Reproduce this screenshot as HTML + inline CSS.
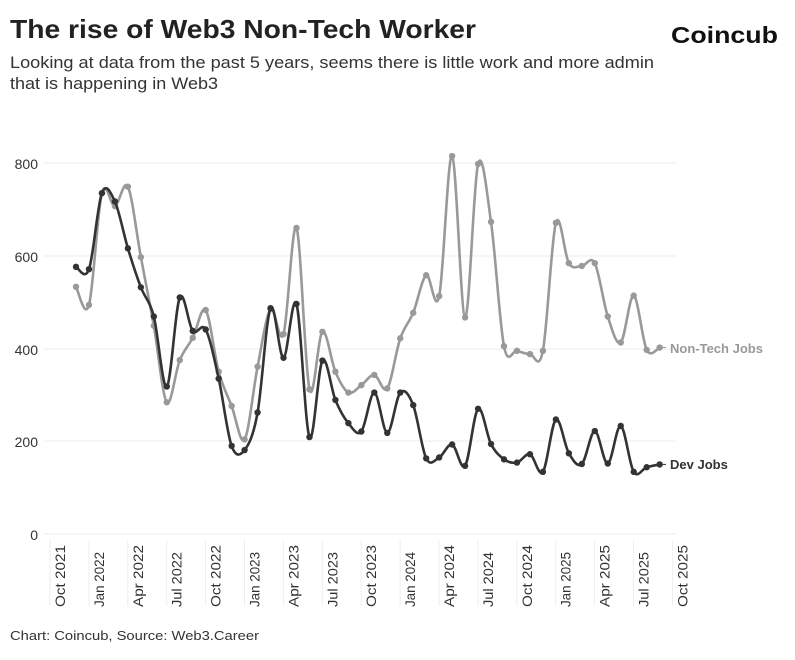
<!DOCTYPE html>
<html><head><meta charset="utf-8"><style>
body{margin:0;background:#fff;width:795px;height:655px;overflow:hidden;font-family:"Liberation Sans",sans-serif}
</style></head><body>
<svg id="s" width="795" height="655" xmlns="http://www.w3.org/2000/svg" font-family="Liberation Sans, sans-serif">
<text x="10" y="38" font-size="26" font-weight="bold" fill="#222" textLength="466" lengthAdjust="spacingAndGlyphs">The rise of Web3 Non-Tech Worker</text>
<text x="671" y="43" font-size="23" font-weight="bold" fill="#111" textLength="107" lengthAdjust="spacingAndGlyphs">Coincub</text>
<text x="10" y="68" font-size="16.5" fill="#333" textLength="644" lengthAdjust="spacingAndGlyphs">Looking at data from the past 5 years, seems there is little work and more admin</text>
<text x="10" y="89" font-size="16.5" fill="#333" textLength="208" lengthAdjust="spacingAndGlyphs">that is happening in Web3</text>
<g stroke="#ececec" stroke-width="1">
<line x1="44" x2="676" y1="163" y2="163"/><line x1="44" x2="676" y1="256" y2="256"/>
<line x1="44" x2="676" y1="349" y2="349"/><line x1="44" x2="676" y1="441" y2="441"/>
<line x1="44" x2="676" y1="534" y2="534"/>
</g>
<g font-size="14" fill="#333" text-anchor="end">
<text x="38" y="169">800</text><text x="38" y="262">600</text><text x="38" y="355">400</text><text x="38" y="447">200</text><text x="38" y="540">0</text>
</g>
<g id="xt"></g>
<g id="ser"></g>
<text x="670" y="353" font-size="13" font-weight="bold" fill="#999">Non-Tech Jobs</text>
<text x="670" y="469" font-size="13" font-weight="bold" fill="#333">Dev Jobs</text>
<text x="10" y="640" font-size="13" fill="#333" textLength="249" lengthAdjust="spacingAndGlyphs">Chart: Coincub, Source: Web3.Career</text>
</svg>
<script>
var labels=["Oct 2021","Jan 2022","Apr 2022","Jul 2022","Oct 2022","Jan 2023","Apr 2023","Jul 2023","Oct 2023","Jan 2024","Apr 2024","Jul 2024","Oct 2024","Jan 2025","Apr 2025","Jul 2025","Oct 2025"];
var xt=document.getElementById('xt'),h='';
labels.forEach(function(l,k){var lx=50+k*38.9;var cx=lx+10;
h+='<line x1="'+lx+'" x2="'+lx+'" y1="540" y2="606" stroke="#eee"/>';
var w=l.indexOf('Jul')==0||l.indexOf('Jan')==0?55:62;
h+='<text transform="translate('+(cx+5)+',607) rotate(-90)" font-size="14" fill="#333" textLength="'+w+'" lengthAdjust="spacingAndGlyphs">'+l+'</text>';});
xt.innerHTML=h;
var gray=[533,494,735,707,749,597,449,284,375,423,483,350,276,204,361,485,431,660,312,436,350,305,321,343,314,422,477,558,513,815,467,798,673,405,395,388,395,671,584,578,584,469,413,514,397,402];
var dark=[576,571,735,717,616,532,469,318,510,438,441,335,190,181,262,487,380,496,209,374,289,239,221,305,218,305,278,163,165,193,147,270,194,161,154,172,134,247,174,151,222,152,233,134,144,150];
function pts(a){return a.map(function(v,i){return [76+12.97*i,534-v*0.46375];});}
function path(p){var d='M'+p[0][0]+','+p[0][1];for(var i=0;i<p.length-1;i++){var p0=p[i-1]||p[i],p1=p[i],p2=p[i+1],p3=p[i+2]||p2;
var c1=[p1[0]+(p2[0]-p0[0])/6,p1[1]+(p2[1]-p0[1])/6],c2=[p2[0]-(p3[0]-p1[0])/6,p2[1]-(p3[1]-p1[1])/6];
d+=' C'+c1[0].toFixed(1)+','+c1[1].toFixed(1)+' '+c2[0].toFixed(1)+','+c2[1].toFixed(1)+' '+p2[0].toFixed(1)+','+p2[1].toFixed(1);}return d;}
var s='';
[[gray,'#999'],[dark,'#333']].forEach(function(o){var p=pts(o[0]);
s+='<path d="'+path(p)+'" fill="none" stroke="'+o[1]+'" stroke-width="2.6"/>';
p.forEach(function(q){s+='<circle cx="'+q[0]+'" cy="'+q[1]+'" r="3.2" fill="'+o[1]+'"/>';});});
s+='<line x1="659" x2="666" y1="347.5" y2="347.5" stroke="#999" stroke-width="1"/><line x1="659" x2="666" y1="464.4" y2="464.4" stroke="#333" stroke-width="1"/>';
document.getElementById('ser').innerHTML=s;
</script>
</body></html>
